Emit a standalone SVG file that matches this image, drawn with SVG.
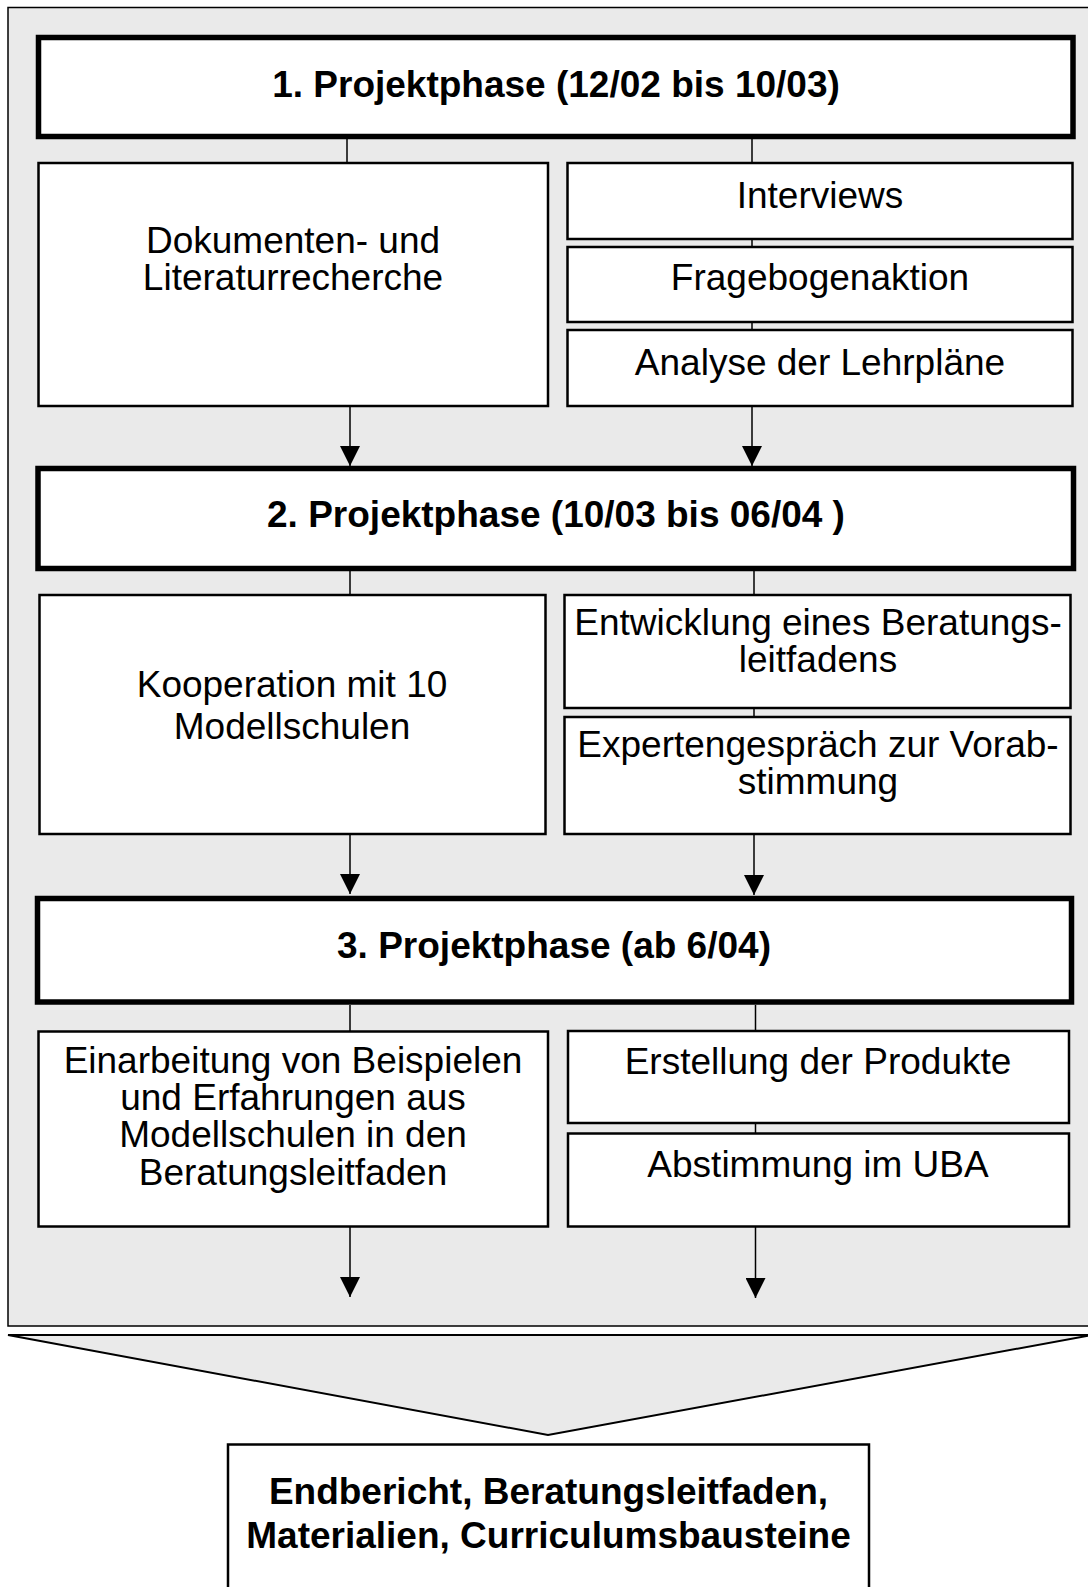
<svg xmlns="http://www.w3.org/2000/svg" width="1088" height="1587" viewBox="0 0 1088 1587">
<style>
.phase{fill:#fff;stroke:#000;stroke-width:5.5}
.box{fill:#fff;stroke:#000;stroke-width:2.5}
.t{font-family:"Liberation Sans",Arial,sans-serif;font-size:37px;text-anchor:middle;fill:#000}
.b{font-weight:bold}
.c{stroke:#000;stroke-width:1.5;fill:none}
</style>
<defs>
<marker id="ah" markerUnits="userSpaceOnUse" markerWidth="20" markerHeight="20" refX="20" refY="10" orient="auto" viewBox="0 0 20 20">
<path d="M0,0 L20,10 L0,20 z" fill="#000"/>
</marker>
</defs>
<rect width="1088" height="1587" fill="#fff"/>
<g id="panel">
<rect x="8" y="7.5" width="1100" height="1318.5" fill="#eaeaea" stroke="#000" stroke-width="1.5"/>
</g>
<g id="connectors">
<line class="c" x1="347" y1="139" x2="347" y2="163"/>
<line class="c" x1="350" y1="406" x2="350" y2="466" marker-end="url(#ah)"/>
<line class="c" x1="752" y1="139" x2="752" y2="406"/>
<line class="c" x1="752" y1="406" x2="752" y2="466" marker-end="url(#ah)"/>
<line class="c" x1="350" y1="571" x2="350" y2="595"/>
<line class="c" x1="350" y1="834" x2="350" y2="894" marker-end="url(#ah)"/>
<line class="c" x1="754" y1="571" x2="754" y2="834"/>
<line class="c" x1="754" y1="834" x2="754" y2="895" marker-end="url(#ah)"/>
<line class="c" x1="350" y1="1005" x2="350" y2="1031"/>
<line class="c" x1="350" y1="1227" x2="350" y2="1297" marker-end="url(#ah)"/>
<line class="c" x1="755.5" y1="1005" x2="755.5" y2="1227"/>
<line class="c" x1="755.5" y1="1227" x2="755.5" y2="1298" marker-end="url(#ah)"/>
</g>
<g id="phase1">
<rect class="phase" x="38.5" y="37.5" width="1034.5" height="99"/>
<text class="t b" x="556" y="97">1. Projektphase (12/02 bis 10/03)</text>
</g>
<g id="dokumenten">
<rect class="box" x="38.5" y="163" width="509.5" height="243"/>
<text class="t" x="293" y="253">Dokumenten- und</text>
<text class="t" x="293" y="290">Literaturrecherche</text>
</g>
<g id="interviews">
<rect class="box" x="567.5" y="163" width="505" height="76"/>
<text class="t" x="820" y="208">Interviews</text>
</g>
<g id="fragebogen">
<rect class="box" x="567.5" y="247" width="505" height="75"/>
<text class="t" x="820" y="290">Fragebogenaktion</text>
</g>
<g id="analyse">
<rect class="box" x="567.5" y="330" width="505" height="76"/>
<text class="t" x="820" y="375">Analyse der Lehrpläne</text>
</g>
<g id="phase2">
<rect class="phase" x="38" y="468.5" width="1035.5" height="100"/>
<text class="t b" x="556" y="527">2. Projektphase (10/03 bis 06/04 )</text>
</g>
<g id="kooperation">
<rect class="box" x="39.5" y="595" width="506" height="239"/>
<text class="t" x="292" y="697">Kooperation mit 10</text>
<text class="t" x="292" y="739">Modellschulen</text>
</g>
<g id="entwicklung">
<rect class="box" x="564.5" y="595" width="506" height="113"/>
<text class="t" x="818" y="635">Entwicklung eines Beratungs-</text>
<text class="t" x="818" y="672">leitfadens</text>
</g>
<g id="experten">
<rect class="box" x="564.5" y="717" width="506" height="117"/>
<text class="t" x="818" y="757">Expertengespräch zur Vorab-</text>
<text class="t" x="818" y="794">stimmung</text>
</g>
<g id="phase3">
<rect class="phase" x="37.5" y="898.5" width="1034" height="103.5"/>
<text class="t b" x="554" y="958">3. Projektphase (ab 6/04)</text>
</g>
<g id="einarbeitung">
<rect class="box" x="38.5" y="1031.5" width="509.5" height="195"/>
<text class="t" x="293" y="1073">Einarbeitung von Beispielen</text>
<text class="t" x="293" y="1110">und Erfahrungen aus</text>
<text class="t" x="293" y="1147">Modellschulen in den</text>
<text class="t" x="293" y="1185">Beratungsleitfaden</text>
</g>
<g id="erstellung">
<rect class="box" x="568" y="1031" width="501" height="92"/>
<text class="t" x="818" y="1074">Erstellung der Produkte</text>
</g>
<g id="abstimmung">
<rect class="box" x="568" y="1133.5" width="501" height="93"/>
<text class="t" x="818" y="1177">Abstimmung im UBA</text>
</g>
<g id="funnel">
<polygon points="8,1335 1092,1335 548,1435" fill="#eaeaea" stroke="#000" stroke-width="2"/>
</g>
<g id="endbericht">
<rect class="box" x="228" y="1444.5" width="641" height="170"/>
<text class="t b" x="548.5" y="1504">Endbericht, Beratungsleitfaden,</text>
<text class="t b" x="548.5" y="1548">Materialien, Curriculumsbausteine</text>
</g>
</svg>
